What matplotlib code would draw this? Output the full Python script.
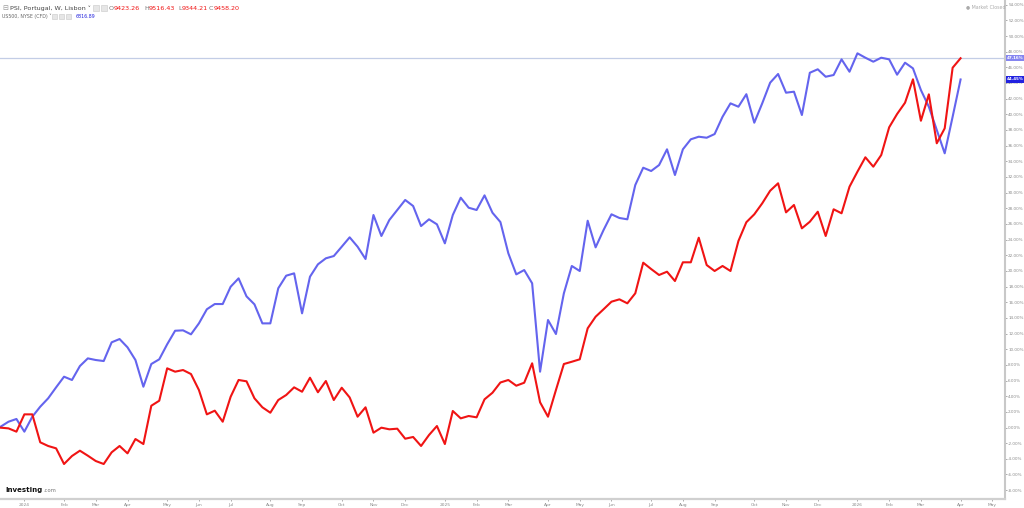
import numpy as np
import pandas as pd
import matplotlib
matplotlib.use("Agg")
import matplotlib.pyplot as plt
import matplotlib.dates as mdates
from matplotlib.ticker import FuncFormatter

# Weekly % change since start (PSI Portugal, red) and US500 (blue)
psi = [-0.02, -0.11, -0.53, 1.68, 1.68, -1.89, -2.36, -2.66, -4.66, -3.64,
       -2.96, -3.60, -4.28, -4.66, -3.17, -2.36, -3.30, -1.47, -2.11, 2.78,
       3.42, 7.56, 7.13, 7.34, 6.83, 4.79, 1.68, 2.15, 0.74, 3.93,
       6.07, 5.90, 3.73, 2.58, 1.89, 3.51, 4.15, 5.13, 4.57, 6.36,
       4.50, 5.94, 3.51, 5.08, 3.84, 1.38, 2.58, -0.66, -0.02, -0.23,
       -0.15, -1.43, -1.21, -2.36, -0.96, 0.19, -2.11, 2.11, 1.17, 1.47,
       1.30, 3.60, 4.44, 5.75, 6.07, 5.34, 5.72, 8.20, 3.22, 1.38,
       4.79, 8.11, 8.40, 8.71, 12.67, 14.15, 15.10, 16.07, 16.37, 15.86,
       17.14, 21.05, 20.24, 19.48, 19.90, 18.71, 21.10, 21.10, 24.24, 20.75,
       19.99, 20.63, 19.99, 23.82, 26.22, 27.23, 28.63, 30.24, 31.19, 27.48,
       28.42, 25.44, 26.28, 27.56, 24.46, 27.87, 27.36, 30.75, 32.67, 34.51,
       33.31, 34.80, 38.34, 40.04, 41.48, 44.47, 39.18, 42.55, 36.30, 38.21,
       45.95, 47.16]

us500 = [0.10, 0.74, 1.09, -0.53, 1.38, 2.66, 3.73, 5.13, 6.49, 6.07,
         7.85, 8.83, 8.62, 8.49, 10.88, 11.30, 10.24, 8.62, 5.21, 8.11,
         8.71, 10.63, 12.36, 12.41, 11.90, 13.30, 15.10, 15.77, 15.77, 17.98,
         19.05, 16.75, 15.73, 13.30, 13.30, 17.78, 19.39, 19.69, 14.58, 19.26,
         20.84, 21.61, 21.90, 23.09, 24.29, 23.09, 21.52, 27.14, 24.46, 26.50,
         27.78, 29.06, 28.29, 25.73, 26.59, 25.95, 23.52, 27.14, 29.35, 28.07,
         27.78, 29.65, 27.43, 26.24, 22.25, 19.56, 20.11, 18.42, 7.13, 13.73,
         11.94, 17.14, 20.63, 19.99, 26.41, 23.01, 25.22, 27.23, 26.76, 26.59,
         30.97, 33.18, 32.76, 33.52, 35.53, 32.25, 35.53, 36.81, 37.14, 37.01,
         37.48, 39.69, 41.40, 40.97, 42.57, 38.93, 41.40, 44.04, 45.15, 42.76,
         42.89, 39.91, 45.31, 45.75, 44.80, 45.02, 47.02, 45.44, 47.79, 47.23,
         46.72, 47.23, 47.02, 45.06, 46.59, 45.87, 43.10, 40.97, 38.00, 35.02,
         39.69, 44.45]

month_labels = ["2024", "Feb", "Mar", "Apr", "May", "Jun", "Jul", "Aug", "Sep",
                "Oct", "Nov", "Dec", "2025", "Feb", "Mar", "Apr", "May", "Jun",
                "Jul", "Aug", "Sep", "Oct", "Nov", "Dec", "2026", "Feb", "Mar",
                "Apr", "May"]

header_name = "PSI, Portugal, W, Lisbon"
ohlc = [("O", "9423.26"), ("H", "9516.43"), ("L", "9344.21"), ("C", "9458.20")]
sub_name = "US500, NYSE (CFD)"
sub_value = "6816.89"

RED = "#f01414"
BLUE = "#6464ee"

dates = pd.date_range("2023-12-11", periods=len(psi), freq="W-MON")
calendar = pd.date_range("2023-12-11", "2026-06-30", freq="W-MON")
tick_dates = []
for y in (2024, 2025, 2026):
    for m in range(1, 13):
        sel = calendar[(calendar.year == y) & (calendar.month == m)]
        if len(sel):
            tick_dates.append(sel[0])
tick_dates = tick_dates[:len(month_labels)]

fig = plt.figure(figsize=(10.24, 5.08), dpi=100)
ax = fig.add_axes([0, 9 / 508, 1005 / 1024, 499 / 508])

x = mdates.date2num(dates)
ax.axhline(47.16, color="#c3cde6", lw=0.9, zorder=1)
ax.plot(x, us500, color=BLUE, lw=1.5, zorder=3, solid_joinstyle="round")
ax.plot(x, psi, color=RED, lw=1.5, zorder=4, solid_joinstyle="round")

x0 = x[0]
ax.set_xlim(x0 - 0.5, x0 + 7 * 126.6)
ax.set_ylim(-9.13, 54.6)

ax.set_xticks(mdates.date2num(pd.DatetimeIndex(tick_dates)))
ax.set_xticklabels(month_labels)
ax.yaxis.tick_right()
ax.set_yticks(np.arange(-8, 55, 2))
ax.yaxis.set_major_formatter(FuncFormatter(lambda v, p: f"{v:.2f}%"))
ax.tick_params(axis="y", labelsize=3.0, colors="#8a8a8a", length=1.5, width=0.5, pad=0.8)
ax.tick_params(axis="x", labelsize=3.2, colors="#8a8a8a", length=1.5, width=0.5, pad=1.2)

for s in ("top", "left"):
    ax.spines[s].set_visible(False)
ax.spines["right"].set_color("#c8c8c8")
ax.spines["right"].set_linewidth(1.5)
ax.spines["bottom"].set_color("#d0d0d0")
ax.spines["bottom"].set_linewidth(1.6)

# price labels on the right axis
for val, bg in ((47.16, "#8585f0"), (44.45, "#2222e0")):
    ax.annotate(f"{val:.2f}%", xy=(1.0, val), xycoords=("axes fraction", "data"),
                xytext=(1.3, 0), textcoords="offset points", ha="left", va="center",
                fontsize=2.9, color="white", fontweight="bold",
                bbox=dict(boxstyle="square,pad=0.3", fc=bg, ec="none"),
                annotation_clip=False, zorder=10)

# header
W, H = 1024, 508
fig.text(2 / W, 1 - 8 / H, "\u229f", fontsize=5.0, color="#999999", va="center")
fig.text(10 / W, 1 - 8 / H, header_name + " \u02c5", fontsize=4.6, color="#444444", va="center")
for (k, v), xl, xn in zip(ohlc, [109, 144, 178, 209], [113.5, 149, 182, 213.5]):
    fig.text(xl / W, 1 - 8 / H, k, fontsize=4.6, color="#777777", va="center")
    fig.text(xn / W, 1 - 8 / H, v, fontsize=4.6, color=RED, va="center")
for xp in (93, 101):
    fig.patches.append(plt.Rectangle((xp / W, 1 - 11 / H), 6 / W, 6 / H, transform=fig.transFigure,
                                     fc="#e6e6e6", ec="#c8c8c8", lw=0.4))
fig.text(2 / W, 1 - 16.5 / H, sub_name + " \u02c5", fontsize=3.4, color="#666666", va="center")
for xp in (52, 59, 66):
    fig.patches.append(plt.Rectangle((xp / W, 1 - 19 / H), 5 / W, 5 / H, transform=fig.transFigure,
                                     fc="#e6e6e6", ec="#c8c8c8", lw=0.4))
fig.text(76 / W, 1 - 16.5 / H, sub_value, fontsize=3.4, color="#2222dd", va="center")

fig.text(966 / W, 1 - 7 / H, "\u25cf Market Closed", fontsize=3.4, color="#aaaaaa", va="center")

# logo
fig.text(5 / W, 1 - 490 / H, "Investing", fontsize=5.0, color="#111111", fontweight="bold", va="center")
fig.text(43 / W, 1 - 490.5 / H, ".com", fontsize=3.8, color="#777777", va="center")

fig.savefig("out.png", dpi=100, facecolor="white")
